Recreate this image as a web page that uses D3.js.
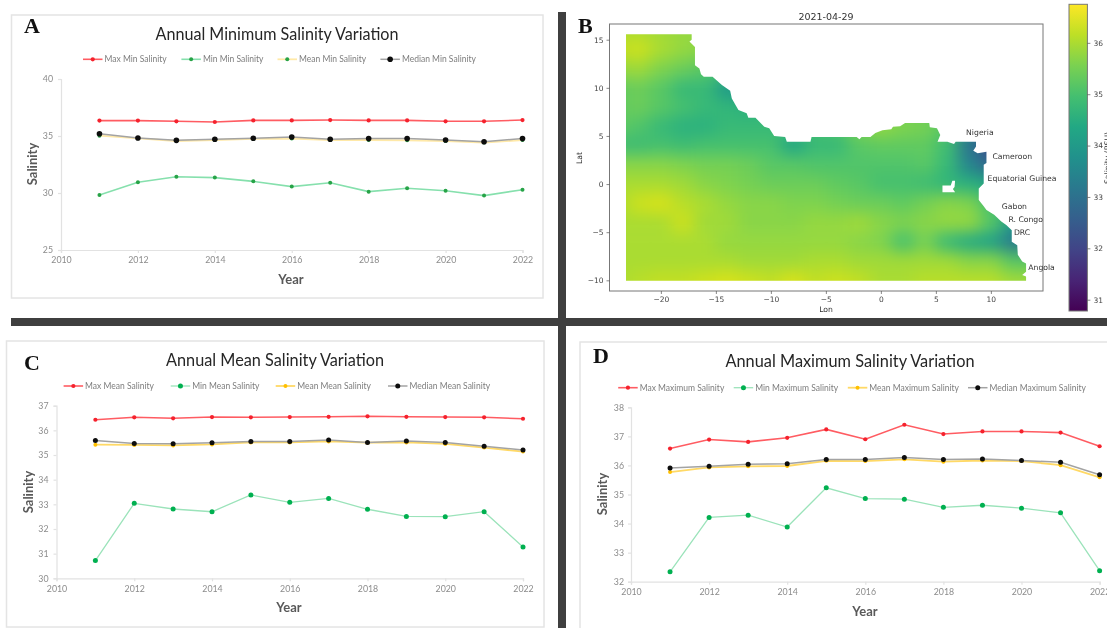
<!DOCTYPE html>
<html>
<head>
<meta charset="utf-8">
<script src="https://cdn.jsdelivr.net/npm/d3@7"></script>
<style>
  html, body { margin: 0; padding: 0; background: #fff; overflow: hidden; }
  svg { display: block; }
  .card { fill: #fff; stroke: #e4e4e4; stroke-width: 1.5; }
  .xl text { font-family: Lato, sans-serif; }
  .xl .tick text { font-size: 8.8px; fill: #8c8c8c; }
  .xl .tick line, .xl .domain { stroke: #e2e2e2; stroke-width: 1.2; }
  .mpl text { font-family: "DejaVu Sans", sans-serif; font-size: 7.7px; fill: #333; }
  .mpl .tick text { font-size: 7.5px; fill: #444; }
  .mpl .tick line { stroke: #555; stroke-width: .7; }
</style>
</head>
<body>
<svg id="chart" width="1107" height="628"></svg>
<script>
const years = [2011, 2012, 2013, 2014, 2015, 2016, 2017, 2018, 2019, 2020, 2021, 2022];
const statNames = ["Max", "Min", "Mean", "Median"];

// panel A
const minMax = [36.35, 36.35, 36.29, 36.23, 36.37, 36.37, 36.4, 36.37, 36.37, 36.29, 36.29, 36.4];
const minMin = [29.82, 30.94, 31.43, 31.35, 31.02, 30.56, 30.9, 30.12, 30.41, 30.2, 29.77, 30.29];
const minMean = [35.03, 34.8, 34.56, 34.65, 34.74, 34.77, 34.65, 34.65, 34.62, 34.56, 34.42, 34.65];
const minMedian = [35.2, 34.82, 34.62, 34.71, 34.8, 34.91, 34.71, 34.77, 34.77, 34.65, 34.5, 34.77];

// panel C
const meanMax = [36.43, 36.53, 36.49, 36.54, 36.53, 36.54, 36.55, 36.57, 36.55, 36.54, 36.53, 36.47];
const meanMin = [30.72, 33.04, 32.81, 32.7, 33.38, 33.08, 33.24, 32.8, 32.51, 32.5, 32.7, 31.27];
const meanMean = [35.42, 35.41, 35.39, 35.43, 35.51, 35.51, 35.55, 35.5, 35.51, 35.45, 35.3, 35.14];
const meanMedian = [35.59, 35.47, 35.46, 35.5, 35.55, 35.55, 35.61, 35.51, 35.57, 35.51, 35.36, 35.2];

// panel D
const maxMax = [36.58, 36.89, 36.81, 36.95, 37.24, 36.9, 37.4, 37.08, 37.17, 37.17, 37.13, 36.66];
const maxMin = [32.34, 34.21, 34.29, 33.88, 35.23, 34.86, 34.84, 34.56, 34.63, 34.53, 34.37, 32.38];
const maxMean = [35.77, 35.93, 35.97, 35.98, 36.16, 36.15, 36.21, 36.13, 36.17, 36.15, 36.01, 35.59];
const maxMedian = [35.91, 35.97, 36.04, 36.06, 36.2, 36.2, 36.27, 36.2, 36.22, 36.17, 36.11, 35.68];

// panel B, salinity every 2 degrees
const gridLons = [-24, -22, -20, -18, -16, -14, -12, -10, -8, -6, -4, -2, 0, 2, 4, 6, 8, 10, 12, 14];
const gridLats = [18, 16, 14, 12, 10, 8, 6, 4, 2, 0, -2, -4, -6, -8, -10, -12];
const salinityGrid = [
  [36.0, 36.0, 35.9, 35.8, 35.8, 35.6, 35.4, 35.2, 35.2, 35.2, 35.2, 35.2, 35.3, 35.3, 35.3, 35.2, 35.0, 34.8, 34.8, 34.8],
  [36.0, 36.0, 35.9, 35.8, 35.8, 35.6, 35.4, 35.2, 35.2, 35.2, 35.2, 35.2, 35.3, 35.3, 35.3, 35.2, 35.0, 34.8, 34.8, 34.8],
  [36.2, 36.3, 36.0, 35.8, 35.7, 35.5, 35.3, 35.2, 35.2, 35.2, 35.2, 35.2, 35.3, 35.3, 35.3, 35.2, 35.0, 34.8, 34.8, 34.8],
  [35.8, 35.9, 35.6, 35.4, 35.2, 35.0, 34.8, 35.0, 35.0, 35.0, 35.0, 35.2, 35.3, 35.3, 35.3, 35.2, 35.0, 34.8, 34.8, 34.8],
  [35.3, 35.4, 35.2, 34.8, 34.8, 34.0, 33.9, 34.5, 34.8, 35.0, 35.0, 35.2, 35.3, 35.3, 35.3, 35.2, 35.0, 34.8, 34.8, 34.8],
  [35.3, 35.4, 35.2, 35.0, 34.8, 34.7, 34.6, 34.7, 34.8, 35.0, 35.0, 35.2, 35.4, 35.4, 35.4, 35.2, 34.8, 34.6, 34.6, 34.6],
  [35.3, 35.1, 34.8, 34.6, 34.6, 34.8, 34.8, 34.8, 34.9, 35.0, 35.1, 35.6, 35.8, 35.6, 35.5, 35.2, 33.7, 32.3, 32.3, 32.3],
  [34.9, 34.9, 35.0, 34.9, 35.0, 35.0, 35.0, 35.0, 34.3, 34.8, 34.8, 35.2, 35.3, 35.3, 35.3, 34.9, 33.1, 32.1, 32.1, 32.1],
  [35.7, 35.7, 35.7, 35.6, 35.5, 35.5, 35.4, 35.2, 35.2, 35.1, 35.1, 35.1, 35.1, 35.1, 35.2, 34.8, 33.5, 32.7, 32.7, 32.7],
  [36.0, 36.0, 36.0, 35.9, 35.7, 35.6, 35.5, 35.4, 35.4, 35.4, 35.3, 35.2, 35.0, 35.0, 34.9, 34.7, 34.6, 34.3, 34.3, 34.3],
  [36.0, 36.3, 36.4, 36.1, 36.0, 35.8, 35.7, 35.7, 35.6, 35.6, 35.5, 35.4, 35.4, 35.3, 35.5, 35.7, 35.6, 35.0, 35.0, 35.0],
  [36.0, 36.0, 36.0, 36.3, 35.9, 35.9, 35.7, 35.7, 35.7, 35.8, 35.8, 35.9, 35.7, 35.6, 35.7, 35.8, 35.8, 35.2, 34.0, 34.0],
  [36.0, 36.0, 36.0, 36.0, 36.0, 35.8, 35.8, 35.8, 35.8, 35.8, 35.8, 35.7, 35.6, 35.0, 35.5, 34.8, 34.4, 34.2, 33.2, 33.2],
  [36.0, 36.0, 36.0, 36.0, 36.0, 36.0, 35.9, 35.9, 35.9, 36.0, 36.0, 35.9, 35.9, 35.9, 35.9, 35.9, 35.7, 35.7, 35.2, 35.2],
  [36.0, 36.1, 36.2, 36.2, 36.3, 36.4, 36.3, 36.2, 36.4, 36.2, 36.3, 36.2, 36.0, 36.0, 36.1, 36.1, 36.1, 36.1, 35.9, 35.9],
  [36.0, 36.1, 36.2, 36.2, 36.3, 36.4, 36.3, 36.2, 36.4, 36.2, 36.3, 36.2, 36.0, 36.0, 36.1, 36.1, 36.1, 36.1, 35.9, 35.9]
];

// outline of the data area as [lon, lat]
const seaOutline = [
  [-23.17, 15.57], [-17.2, 15.57], [-17.2, 15], [-17.4, 14.8], [-16.9, 14.25], [-16.9, 12.35], [-16.5, 12], [-16.35, 11.4],
  [-16.1, 11.15], [-15.3, 11.15], [-14.45, 10.3], [-13.7, 9.7], [-13.55, 8.9], [-13.2, 8.2], [-12.95, 7.7], [-12.2, 7.35],
  [-12.05, 6.9], [-11.4, 6.9], [-10.6, 5.95], [-10.15, 5.8], [-9.7, 5], [-8.7, 4.9], [-8.55, 4.4], [-6.4, 4.4], [-6.3, 4.9],
  [-2.2, 4.9], [-1.95, 4.65], [-1.75, 4.9], [-0.95, 4.9], [-0.5, 5.3], [0.15, 5.6], [0.95, 5.7], [1.1, 5.95], [1.75, 6],
  [2.2, 6.35], [4.4, 6.35], [4.45, 5.9], [5.1, 5.8], [5.4, 5.1], [5.15, 4.4], [6.05, 4.4], [6.65, 4.15], [6.8, 4.4], [8.65, 4.4],
  [8.65, 3.9], [8.4, 3.45], [8.8, 3.2], [9.6, 3.35], [9.6, 2.2], [9.35, 2], [9.35, 0.05], [8.9, -0.45], [8.9, -1.65], [9.35, -2.3],
  [9.6, -2.7], [10.3, -3.2], [10.95, -3.9], [11.4, -4.25], [11.9, -4.8], [11.9, -6], [12.4, -6.35], [12.45, -7.35], [12.85, -8.05],
  [13.2, -8.25], [13.2, -9.1], [12.85, -9.45], [13.2, -9.6], [13.2, -10.05], [-23.17, -10.05]
];
const islandOutline = [[5.6, -0.15], [6.35, -0.15], [6.5, 0.35], [6.75, 0.35], [6.7, -0.3], [6.55, -0.5], [6.75, -0.85], [5.6, -0.85]];

const countryNames = ["Nigeria", "Cameroon", "Equatorial Guinea", "Gabon", "R. Congo", "DRC", "Angola"];
const countryLons = [7.75, 10.15, 9.7, 11, 11.6, 12.1, 13.4];
const countryLats = [5.05, 2.6, 0.35, -2.6, -3.95, -5.25, -8.95];

const colorTicks = [31, 32, 33, 34, 35, 36];

const svg = d3.select("#chart");
const defs = svg.append("defs");

// the source picture is a soft scan, everything sits under a slight blur
defs.append("filter").attr("id", "soft")
  .attr("filterUnits", "userSpaceOnUse")
  .attr("x", 0).attr("y", 0).attr("width", 1107).attr("height", 628)
  .attr("color-interpolation-filters", "sRGB")
  .append("feGaussianBlur").attr("stdDeviation", 0.45);

const root = svg.append("g").attr("filter", "url(#soft)");
root.append("rect").attr("width", 1107).attr("height", 628).attr("fill", "#fff");

// the separators between the four panels
root.append("rect").attr("x", 558).attr("y", 12).attr("width", 8).attr("height", 616).attr("fill", "#3f3f3f");
root.append("rect").attr("x", 11).attr("y", 318).attr("width", 1096).attr("height", 8).attr("fill", "#3f3f3f");

function linePanel(p) {
  const g = root.append("g").attr("class", "xl");

  g.append("rect").attr("class", "card")
    .attr("x", p.card[0]).attr("y", p.card[1])
    .attr("width", p.card[2] - p.card[0]).attr("height", p.card[3] - p.card[1]);

  const x = d3.scaleLinear().domain([2010, 2022]).range(p.xRange);
  const y = d3.scaleLinear().domain(p.yDomain).range(p.yRange);

  g.append("g").attr("transform", `translate(0,${p.yRange[0]})`)
    .call(d3.axisBottom(x).tickValues(d3.range(2010, 2023, 2)).tickFormat(d3.format("d")).tickSize(3).tickPadding(4));
  g.append("g").attr("transform", `translate(${p.xRange[0]},0)`)
    .call(d3.axisLeft(y).ticks(p.yCount).tickFormat(d3.format("d")).tickSize(3).tickPadding(p.yPad));

  const line = d3.line().x((d, i) => x(years[i])).y(d => y(d));

  p.series.forEach((values, k) => {
    const s = p.styles[k];
    g.append("path").datum(values)
      .attr("d", line).attr("fill", "none")
      .attr("stroke", s.line).attr("stroke-width", s.width);
    g.append("g").selectAll("circle").data(values).join("circle")
      .attr("cx", (d, i) => x(years[i])).attr("cy", d => y(d))
      .attr("r", s.r).attr("fill", s.dot);

    // legend
    const lx = p.legendX[k];
    g.append("line").attr("x1", lx).attr("x2", lx + 19.5)
      .attr("y1", p.legendY).attr("y2", p.legendY)
      .attr("stroke", s.line).attr("stroke-width", s.width);
    g.append("circle").attr("cx", lx + 9.75).attr("cy", p.legendY).attr("r", s.r).attr("fill", s.dot);
    g.append("text").attr("x", lx + 21.5).attr("y", p.legendY + 3)
      .attr("font-size", 8.5).attr("fill", "#7d7d7d")
      .text(`${statNames[k]} ${p.word} Salinity`);
  });

  g.append("text").attr("x", p.titleX).attr("y", p.titleY).attr("text-anchor", "middle")
    .attr("font-size", 17.5).attr("fill", "#262626")
    .attr("textLength", p.titleWidth).attr("lengthAdjust", "spacingAndGlyphs").text(p.title);
  g.append("text").attr("x", p.yearPos[0]).attr("y", p.yearPos[1]).attr("text-anchor", "middle")
    .attr("font-size", 13).attr("font-weight", 700).attr("fill", "#595959").text("Year");
  g.append("text").attr("text-anchor", "middle")
    .attr("transform", `translate(${p.salPos[0]},${p.salPos[1]}) rotate(-90)`)
    .attr("font-size", 13).attr("font-weight", 700).attr("fill", "#595959").text("Salinity");
  g.append("text").attr("x", p.letterPos[0]).attr("y", p.letterPos[1])
    .style("font-family", "'Liberation Serif', serif")
    .attr("font-size", 22).attr("font-weight", 700).attr("fill", "#111").text(p.letter);
}

const redLine = { line: "#ff5c62", dot: "#f5222d", r: 2.1, width: 1.6 };
const blackDot = { line: "#a3a3a3", dot: "#0d0d0d", r: 2.5, width: 1.5 };

linePanel({
  letter: "A", word: "Min", title: "Annual Minimum Salinity Variation", titleX: 277, titleY: 40, titleWidth: 243,
  card: [11.5, 15, 543, 298], xRange: [61, 522.5], yRange: [250, 79], yDomain: [25, 40], yCount: 3, yPad: 5,
  legendX: [83, 181.4, 277.5, 380.4], legendY: 59.3, yearPos: [291, 284], salPos: [37, 164], letterPos: [24, 33],
  series: [minMax, minMin, minMean, minMedian],
  styles: [redLine, { line: "#86e0ad", dot: "#27a347", r: 2, width: 1.6 }, { line: "#ffe9a8", dot: "#27a347", r: 2, width: 1.8 }, { ...blackDot, r: 2.8 }]
});

linePanel({
  letter: "C", word: "Mean", title: "Annual Mean Salinity Variation", titleX: 275, titleY: 366, titleWidth: 218,
  card: [6.5, 341, 544, 627], xRange: [56.5, 523], yRange: [578.3, 405.7], yDomain: [30, 37], yCount: 7, yPad: 5,
  legendX: [63.6, 170.7, 275.7, 388], legendY: 386, yearPos: [289, 612], salPos: [33, 492], letterPos: [24, 370],
  series: [meanMax, meanMin, meanMean, meanMedian],
  styles: [redLine, { line: "#9be3ba", dot: "#00b050", r: 2.5, width: 1.3 }, { line: "#ffd966", dot: "#ffc000", r: 2, width: 1.8 }, blackDot]
});

linePanel({
  letter: "D", word: "Maximum", title: "Annual Maximum Salinity Variation", titleX: 850, titleY: 367, titleWidth: 249,
  card: [580, 342, 1120, 640], xRange: [631, 1099.6], yRange: [581.7, 407.3], yDomain: [32, 38], yCount: 6, yPad: 4,
  legendX: [618.2, 733.7, 847.8, 968], legendY: 387.7, yearPos: [865, 616], salPos: [607, 494], letterPos: [593, 363],
  series: [maxMax, maxMin, maxMean, maxMedian],
  styles: [redLine, { line: "#9be3ba", dot: "#00b050", r: 2.5, width: 1.3 }, { line: "#ffd966", dot: "#ffc000", r: 2, width: 1.8 }, blackDot]
});

// panel B, the salinity map
const mapX = d3.scaleLinear().domain([-24.67, 14.74]).range([609.5, 1043]);
const mapY = d3.scaleLinear().domain([-11.11, 16.63]).range([291, 24]);
const colorScale = d3.scaleSequential(d3.interpolateViridis).domain([30.78, 36.75]);

const mapG = root.append("g").attr("class", "mpl");

defs.append("filter").attr("id", "smooth")
  .attr("filterUnits", "userSpaceOnUse")
  .attr("x", 560).attr("y", 0).attr("width", 547).attr("height", 320)
  .attr("color-interpolation-filters", "sRGB")
  .append("feGaussianBlur").attr("stdDeviation", 8);

const ringPath = pts => "M" + pts.map(d => [mapX(d[0]), mapY(d[1])].join(",")).join("L") + "Z";
defs.append("clipPath").attr("id", "seaClip")
  .append("path").attr("clip-rule", "evenodd")
  .attr("d", ringPath(seaOutline) + ringPath(islandOutline));

const cells = salinityGrid.flatMap((row, j) => row.map((v, i) => ({ lon: gridLons[i], lat: gridLats[j], v })));
mapG.append("g").attr("clip-path", "url(#seaClip)")
  .append("g").attr("filter", "url(#smooth)")
  .selectAll("rect").data(cells).join("rect")
  .attr("x", d => mapX(d.lon - 1))
  .attr("y", d => mapY(d.lat + 1))
  .attr("width", mapX(1) - mapX(-1) + 0.5)
  .attr("height", mapY(-1) - mapY(1) + 0.5)
  .attr("fill", d => colorScale(d.v));

mapG.append("rect").attr("x", 609.5).attr("y", 24).attr("width", 433.5).attr("height", 267)
  .attr("fill", "none").attr("stroke", "#777").attr("stroke-width", 1);

mapG.append("g").attr("transform", "translate(0,291)")
  .call(d3.axisBottom(mapX).tickValues(d3.range(-20, 11, 5)).tickSize(3).tickPadding(3))
  .call(a => a.select(".domain").remove());
mapG.append("g").attr("transform", "translate(609.5,0)")
  .call(d3.axisLeft(mapY).tickValues(d3.range(-10, 16, 5)).tickSize(3).tickPadding(3))
  .call(a => a.select(".domain").remove());

mapG.append("text").attr("x", 826).attr("y", 19.5).attr("text-anchor", "middle").style("font-size", "9.5px").text("2021-04-29");
mapG.append("text").attr("x", 826).attr("y", 312).attr("text-anchor", "middle").text("Lon");
mapG.append("text").attr("text-anchor", "middle").attr("transform", "translate(582,158) rotate(-90)").text("Lat");

countryNames.forEach((name, i) => {
  mapG.append("text").attr("x", mapX(countryLons[i])).attr("y", mapY(countryLats[i])).text(name);
});

mapG.append("text").attr("x", 578).attr("y", 33)
  .style("font-family", "'Liberation Serif', serif").style("font-size", "22px").style("fill", "#111")
  .attr("font-weight", 700).text("B");

// colorbar
const barY = d3.scaleLinear().domain([30.78, 36.75]).range([311, 4.3]);
const grad = defs.append("linearGradient").attr("id", "viridisBar").attr("x1", 0).attr("x2", 0).attr("y1", 1).attr("y2", 0);
d3.range(0, 1.0001, 0.1).forEach(t => {
  grad.append("stop").attr("offset", t).attr("stop-color", d3.interpolateViridis(t));
});
mapG.append("rect").attr("x", 1069).attr("y", 4.3).attr("width", 18.4).attr("height", 306.7)
  .attr("fill", "url(#viridisBar)").attr("stroke", "#777").attr("stroke-width", 1);
mapG.append("g").attr("transform", "translate(1087.4,0)")
  .call(d3.axisRight(barY).tickValues(colorTicks).tickFormat(d3.format("d")).tickSize(3).tickPadding(3))
  .call(a => a.select(".domain").remove());
mapG.append("text").attr("text-anchor", "middle").attr("transform", "translate(1110,158) rotate(-90)").text("Salinity (PSU)");
</script>
</body>
</html>
